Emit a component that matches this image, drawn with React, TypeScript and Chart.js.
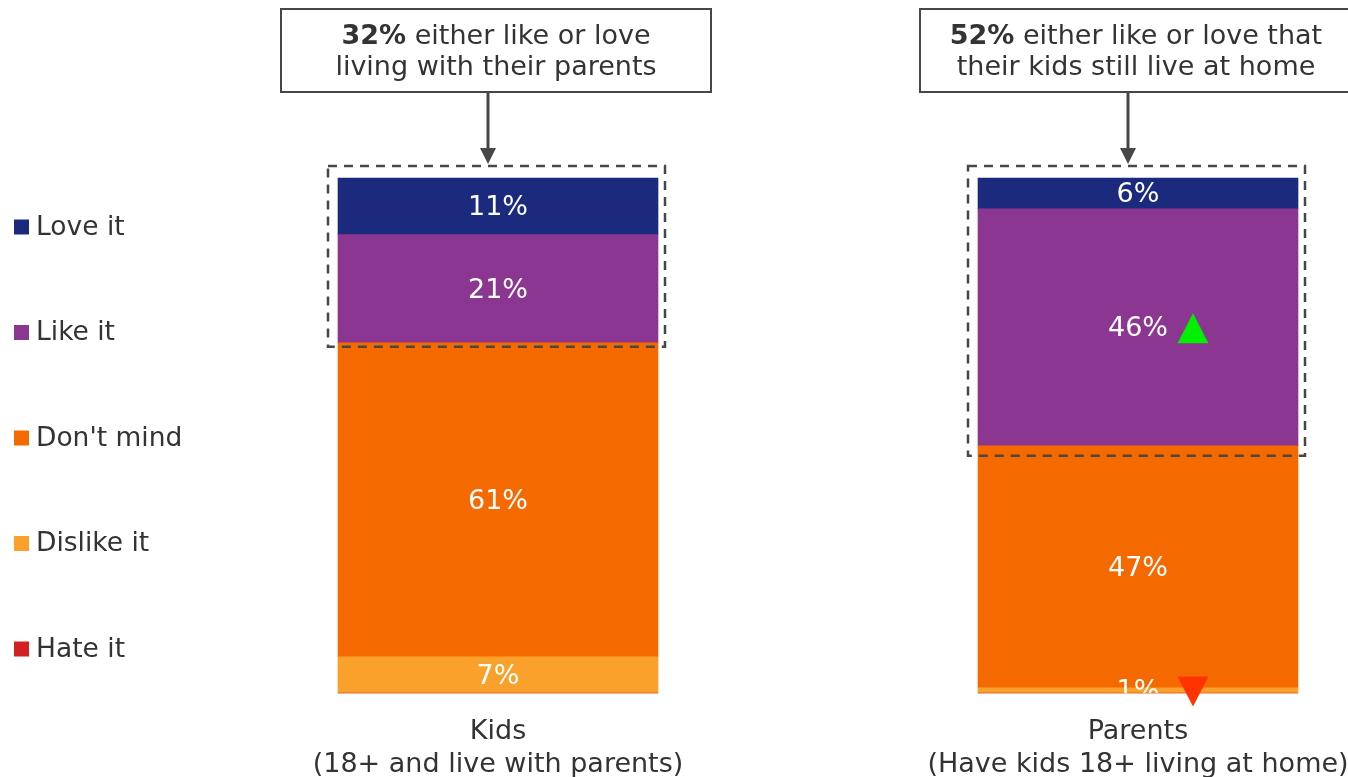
import React, { useEffect, useRef } from 'react';
import { Chart, registerables } from 'chart.js';

Chart.register(...registerables);

const categories = [
  ['Kids', '(18+ and live with parents)'],
  ['Parents', '(Have kids 18+ living at home)'],
];
const seriesNames = ['Love it', 'Like it', "Don't mind", 'Dislike it', 'Hate it'];
const loveIt = [11, 6];
const likeIt = [21, 46];
const dontMind = [61, 47];
const dislikeIt = [7, 1];
const hateIt = [0, 0];
const seriesColors = ['#1B2A7D', '#8B3691', '#F56A00', '#F9A12A', '#D42020'];
const likeMarkers = ['', 'up'];
const dislikeMarkers = ['', 'down'];
const calloutBold = ['32%', '52%'];
const calloutLine1 = [' either like or love', ' either like or love that'];
const calloutLine2 = ['living with their parents', 'their kids still live at home'];

const FONT = '"DejaVu Sans", Verdana, sans-serif';
const TEXT = '#333333';
const LINE = '#474747';

const overlayPlugin = {
  id: 'overlay',
  afterDatasetsDraw(chart: any) {
    const { ctx, chartArea, scales } = chart;
    const yS = scales.y;

    // data labels (clipped to plot area)
    ctx.save();
    ctx.beginPath();
    ctx.rect(0, chartArea.top, chart.width, chartArea.height);
    ctx.clip();
    ctx.font = `27px ${FONT}`;
    ctx.fillStyle = '#ffffff';
    ctx.textAlign = 'center';
    ctx.textBaseline = 'middle';
    chart.data.datasets.forEach((ds: any, di: number) => {
      const meta = chart.getDatasetMeta(di);
      meta.data.forEach((bar: any, i: number) => {
        const p = bar.getProps(['x', 'y', 'base', 'width'], true);
        const v = ds.data[i];
        if (!v) return;
        ctx.fillText(v + '%', p.x, (p.y + p.base) / 2 + 2);
      });
    });
    ctx.restore();

    // markers
    chart.data.datasets.forEach((ds: any, di: number) => {
      const markers = ds.markers as string[] | undefined;
      if (!markers) return;
      const meta = chart.getDatasetMeta(di);
      meta.data.forEach((bar: any, i: number) => {
        const m = markers[i];
        if (!m) return;
        const p = bar.getProps(['x', 'y', 'base'], true);
        const cx = p.x + 55;
        const cy = (p.y + p.base) / 2 + 1;
        ctx.save();
        ctx.beginPath();
        if (m === 'up') {
          ctx.fillStyle = '#00F000';
          ctx.moveTo(cx, cy - 15);
          ctx.lineTo(cx + 15.5, cy + 15);
          ctx.lineTo(cx - 15.5, cy + 15);
        } else {
          ctx.fillStyle = '#FF3300';
          ctx.moveTo(cx - 15.5, cy - 15);
          ctx.lineTo(cx + 15.5, cy - 15);
          ctx.lineTo(cx, cy + 15);
        }
        ctx.closePath();
        ctx.fill();
        ctx.restore();
      });
    });

    // dashed boxes around Like + Love, callouts
    const bottomPad = [4, 10];
    const boxW = [430, 432];
    for (let i = 0; i < 2; i++) {
      const below = hateIt[i] + dislikeIt[i] + dontMind[i];
      const total = below + likeIt[i] + loveIt[i];
      const meta = chart.getDatasetMeta(0);
      const bx = meta.data[i].x;
      const bw = meta.data[i].width;
      const top = yS.getPixelForValue(total) - 12;
      const bottom = yS.getPixelForValue(below) + bottomPad[i];
      const left = bx - bw / 2 - 10;
      const right = bx + bw / 2 + 7;
      ctx.save();
      ctx.strokeStyle = LINE;
      ctx.lineWidth = 2.5;
      ctx.setLineDash([9, 7]);
      ctx.strokeRect(left, top, right - left, bottom - top);
      ctx.restore();

      const cx = bx - 2;
      const bTop = 9;
      const bBot = 92;
      ctx.save();
      ctx.strokeStyle = LINE;
      ctx.lineWidth = 2;
      ctx.fillStyle = '#ffffff';
      ctx.fillRect(cx - boxW[i] / 2, bTop, boxW[i], bBot - bTop);
      ctx.strokeRect(cx - boxW[i] / 2, bTop, boxW[i], bBot - bTop);
      ctx.fillStyle = TEXT;
      ctx.textBaseline = 'middle';
      ctx.font = `bold 27px ${FONT}`;
      const wB = ctx.measureText(calloutBold[i]).width;
      ctx.font = `27px ${FONT}`;
      const wN = ctx.measureText(calloutLine1[i]).width;
      const startX = cx - (wB + wN) / 2;
      ctx.textAlign = 'left';
      ctx.font = `bold 27px ${FONT}`;
      ctx.fillText(calloutBold[i], startX, 37);
      ctx.font = `27px ${FONT}`;
      ctx.fillText(calloutLine1[i], startX + wB, 37);
      ctx.textAlign = 'center';
      ctx.fillText(calloutLine2[i], cx, 68);
      const ax = bx - 10;
      ctx.strokeStyle = LINE;
      ctx.lineWidth = 3;
      ctx.beginPath();
      ctx.moveTo(ax, bBot);
      ctx.lineTo(ax, 150);
      ctx.stroke();
      ctx.fillStyle = LINE;
      ctx.beginPath();
      ctx.moveTo(ax - 8, 148);
      ctx.lineTo(ax + 8, 148);
      ctx.lineTo(ax, 164);
      ctx.closePath();
      ctx.fill();
      ctx.restore();
    }

    // legend
    ctx.save();
    ctx.font = `26.5px ${FONT}`;
    ctx.textAlign = 'left';
    ctx.textBaseline = 'middle';
    seriesNames.forEach((name, k) => {
      const cy = 227 + k * 105.5;
      ctx.fillStyle = seriesColors[k];
      ctx.fillRect(14, cy - 7.5, 15, 15);
      ctx.fillStyle = TEXT;
      ctx.fillText(name, 36, cy + 1);
    });
    ctx.restore();
  },
};

export default function App() {
  const ref = useRef<HTMLCanvasElement | null>(null);
  useEffect(() => {
    if (!ref.current) return;
    const chart = new Chart(ref.current, {
      type: 'bar',
      data: {
        labels: categories as any,
        datasets: [
          { label: seriesNames[4], data: hateIt, backgroundColor: seriesColors[4] },
          { label: seriesNames[3], data: dislikeIt, backgroundColor: seriesColors[3], markers: dislikeMarkers } as any,
          { label: seriesNames[2], data: dontMind, backgroundColor: seriesColors[2] },
          { label: seriesNames[1], data: likeIt, backgroundColor: seriesColors[1], markers: likeMarkers } as any,
          { label: seriesNames[0], data: loveIt, backgroundColor: seriesColors[0] },
        ],
      },
      options: {
        responsive: false,
        animation: false,
        devicePixelRatio: 1,
        layout: { padding: { top: 178, left: 498, right: 210, bottom: 0 } },
        datasets: { bar: { barThickness: 320, borderWidth: 0, clip: false } as any },
        plugins: { legend: { display: false }, tooltip: { enabled: false } },
        scales: {
          x: {
            stacked: true,
            offset: false,
            grid: { display: false, drawTicks: false },
            border: { display: false },
            afterFit: (scale: any) => {
              scale.paddingLeft = 0;
              scale.paddingRight = 0;
              scale.paddingTop = 0;
              scale.paddingBottom = 0;
              scale.height = 84;
            },
            ticks: {
              autoSkip: false,
              maxRotation: 0,
              minRotation: 0,
              padding: 23,
              color: TEXT,
              font: { family: FONT, size: 27, lineHeight: 1.22 },
            },
          } as any,
          y: {
            stacked: true,
            display: false,
            min: 0,
            max: 100,
          },
        },
      },
      plugins: [overlayPlugin],
    });
    return () => chart.destroy();
  }, []);
  return (
    <div style={{ position: 'fixed', left: 0, top: 0, width: 1348, height: 777, background: '#fff' }}>
      <canvas ref={ref} width={1348} height={777} style={{ display: 'block' }} />
    </div>
  );
}
